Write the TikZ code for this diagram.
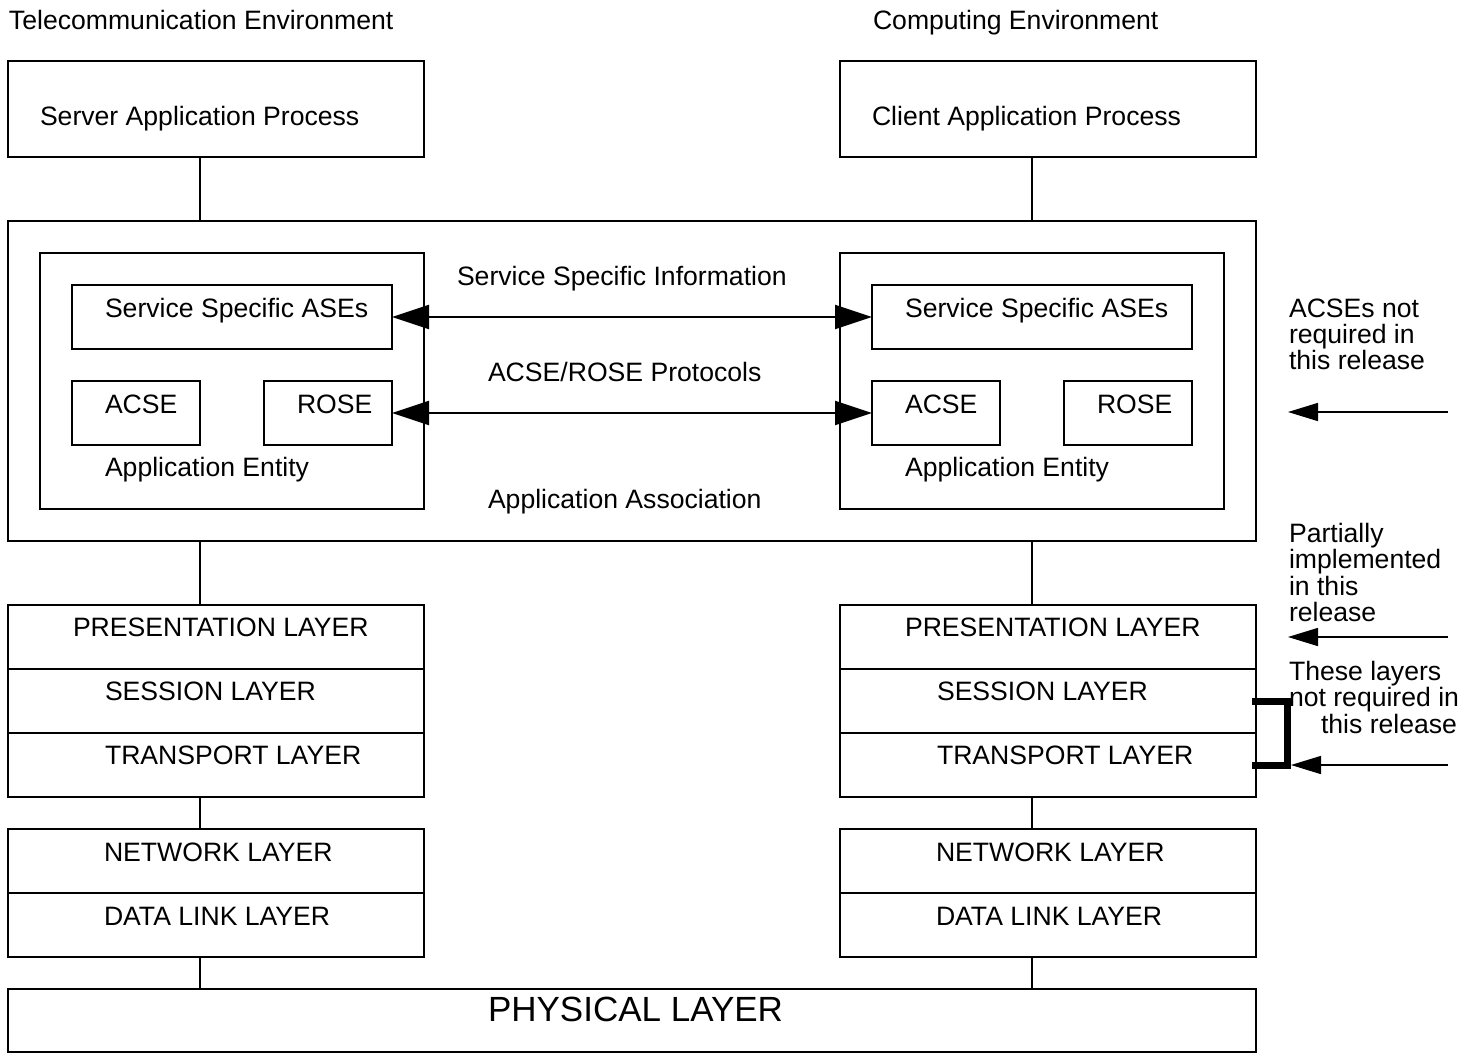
\documentclass[tikz,border=0pt]{standalone}
\usepackage{fontspec}
\setmainfont{Liberation Sans}
\usetikzlibrary{arrows.meta}

\tikzset{
  box/.style={draw, line width=2.6pt, rectangle, inner sep=0pt, outer sep=0pt, anchor=north west},
  lbl/.style={anchor=base west, inner sep=0pt, outer sep=0pt, font=\fontsize{26.6}{31}\selectfont},
  biglbl/.style={anchor=base west, inner sep=0pt, outer sep=0pt, font=\fontsize{35}{40}\selectfont},
  link/.style={line width=2.5pt},
  thinlink/.style={line width=1.3pt},
  proto/.style={line width=2.3pt, {Triangle[length=37pt,width=24pt]}-{Triangle[length=37pt,width=24pt]}},
  note/.style={line width=1.5pt, -{Triangle[length=30pt,width=18pt]}},
  brace/.style={line width=7pt}
}

% box with name, top-left corner, width and height
\newcommand{\boxat}[5]{\node[box, minimum width=#4pt, minimum height=#5pt] (#1) at (#2,#3) {};}

\begin{document}
\begin{tikzpicture}[x=1pt, y=-1pt]
\useasboundingbox (0,0) rectangle (1476,1053);

% environment titles
\node[lbl] (tenv) at (9,29) {Telecommunication Environment};
\node[lbl] (cenv) at (873,29) {Computing Environment};

% application processes
\boxat{sap}{8}{61}{416}{96}
\boxat{cap}{840}{61}{416}{96}
\node[lbl] (saptxt) at (40,125) {Server Application Process};
\node[lbl] (captxt) at (872,125) {Client Application Process};

% application association
\boxat{assoc}{8}{221}{1248}{320}
\boxat{ael}{40}{253}{384}{256}
\boxat{aer}{840}{253}{384}{256}

\boxat{ssal}{72}{285}{320}{64}
\boxat{acsel}{72}{381}{128}{64}
\boxat{rosel}{264}{381}{128}{64}
\boxat{ssar}{872}{285}{320}{64}
\boxat{acser}{872}{381}{128}{64}
\boxat{roser}{1064}{381}{128}{64}

\node[lbl] (ssaltxt) at (105,317) {Service Specific ASEs};
\node[lbl] (acseltxt) at (105,413) {ACSE};
\node[lbl] (roseltxt) at (297,413) {ROSE};
\node[lbl] (aeltxt) at (105,476) {Application Entity};
\node[lbl] (ssartxt) at (905,317) {Service Specific ASEs};
\node[lbl] (acsertxt) at (905,413) {ACSE};
\node[lbl] (rosertxt) at (1097,413) {ROSE};
\node[lbl] (aertxt) at (905,476) {Application Entity};

\node[lbl] (ssitxt) at (457,285) {Service Specific Information};
\node[lbl] (protxt) at (488,381) {ACSE/ROSE Protocols};
\node[lbl] (aatxt) at (488,508) {Application Association};

\draw[proto] (ssal.east) -- (ssar.west);
\draw[proto] (rosel.east) -- (acser.west);

% upper layer stacks
\boxat{presl}{8}{605}{416}{64}
\boxat{sessl}{8}{669}{416}{64}
\boxat{tranl}{8}{733}{416}{64}
\boxat{presr}{840}{605}{416}{64}
\boxat{sessr}{840}{669}{416}{64}
\boxat{tranr}{840}{733}{416}{64}
\node[lbl] (presltxt) at (73,636) {PRESENTATION LAYER};
\node[lbl] (sessltxt) at (105,700) {SESSION LAYER};
\node[lbl] (tranltxt) at (105,764) {TRANSPORT LAYER};
\node[lbl] (presrtxt) at (905,636) {PRESENTATION LAYER};
\node[lbl] (sessrtxt) at (937,700) {SESSION LAYER};
\node[lbl] (tranrtxt) at (937,764) {TRANSPORT LAYER};

% lower layer stacks
\boxat{netl}{8}{829}{416}{64}
\boxat{dlll}{8}{893}{416}{64}
\boxat{netr}{840}{829}{416}{64}
\boxat{dllr}{840}{893}{416}{64}
\node[lbl] (netltxt) at (104,861) {NETWORK LAYER};
\node[lbl] (dllltxt) at (104,925) {DATA LINK LAYER};
\node[lbl] (netrtxt) at (936,861) {NETWORK LAYER};
\node[lbl] (dllrtxt) at (936,925) {DATA LINK LAYER};

% physical layer
\boxat{phys}{8}{989}{1248}{63}
\node[biglbl] (phystxt) at (488,1021) {PHYSICAL LAYER};

% vertical links between the levels
\draw[link] ([xshift=-16pt]sap.south) -- ([xshift=-16pt]sap.south |- assoc.north);
\draw[link] ([xshift=-16pt]cap.south) -- ([xshift=-16pt]cap.south |- assoc.north);
\draw[link] ([xshift=-16pt]presl.north |- assoc.south) -- ([xshift=-16pt]presl.north);
\draw[link] ([xshift=-16pt]presr.north |- assoc.south) -- ([xshift=-16pt]presr.north);
\draw[thinlink] ([xshift=-16pt]tranl.south) -- ([xshift=-16pt]netl.north);
\draw[thinlink] ([xshift=-16pt]tranr.south) -- ([xshift=-16pt]netr.north);
\draw[thinlink] ([xshift=-16pt]dlll.south) -- ([xshift=-16pt]dlll.south |- phys.north);
\draw[thinlink] ([xshift=-16pt]dllr.south) -- ([xshift=-16pt]dllr.south |- phys.north);

% release notes
\node[lbl] (n1a) at (1289,317) {ACSEs not};
\node[lbl] (n1b) at (1289,343) {required in};
\node[lbl] (n1c) at (1289,369) {this release};
\node[lbl] (n2a) at (1289,542) {Partially};
\node[lbl] (n2b) at (1289,568) {implemented};
\node[lbl] (n2c) at (1289,595) {in this};
\node[lbl] (n2d) at (1289,621) {release};
\node[lbl] (n3a) at (1289,680) {These layers};
\node[lbl] (n3b) at (1289,706) {not required in};
\node[lbl] (n3c) at (1321,733) {this release};

\coordinate (a1s) at (1448,412);
\coordinate (a1e) at (1288,412);
\coordinate (a2s) at (1448,637);
\coordinate (a2e) at (1288,637);
\coordinate (a3s) at (1448,765);
\coordinate (a3e) at (1291,765);
\draw[note] (a1s) -- (a1e);
\draw[note] (a2s) -- (a2e);
\draw[note] (a3s) -- (a3e);

% bracket grouping session and transport layers
\coordinate (b1) at (1252,701);
\coordinate (b2) at (1287,701);
\coordinate (b3) at (1287,765);
\coordinate (b4) at (1252,765);
\draw[brace] (b1) -- (b2) -- (b3) -- (b4);
\end{tikzpicture}
\end{document}
